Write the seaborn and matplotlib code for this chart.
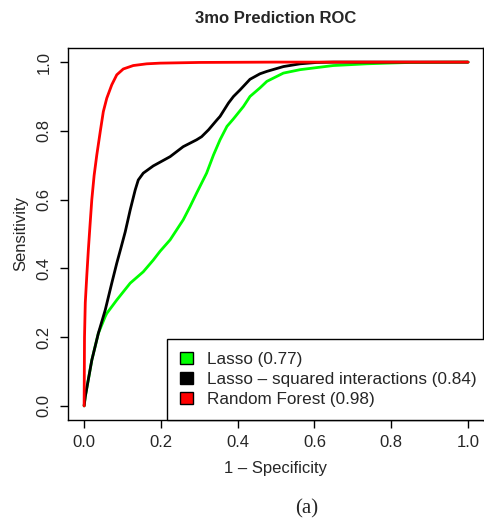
import matplotlib
matplotlib.use("Agg")
import matplotlib.pyplot as plt
from matplotlib.patches import Patch
import pandas as pd
import seaborn as sns

# ROC points
rf_fpr = [0, 0.0005, 0.001, 0.003, 0.007, 0.011, 0.015, 0.02, 0.026, 0.033, 0.042, 0.05,
          0.059, 0.072, 0.085, 0.102, 0.128, 0.163, 0.198, 0.3, 0.5, 1.0]
rf_tpr = [0, 0.1, 0.2, 0.3, 0.38, 0.454, 0.52, 0.6, 0.67, 0.73, 0.798, 0.856,
          0.895, 0.934, 0.963, 0.98, 0.99, 0.995, 0.997, 0.999, 1.0, 1.0]

sq_fpr = [0, 0.003, 0.02, 0.037, 0.055, 0.072, 0.085, 0.096, 0.107, 0.12, 0.133, 0.141,
          0.154, 0.18, 0.224, 0.258, 0.293, 0.306, 0.324, 0.346, 0.354, 0.376, 0.389,
          0.406, 0.432, 0.458, 0.476, 0.519, 0.5625, 0.606, 0.65, 0.75, 1.0]
sq_tpr = [0, 0.027, 0.133, 0.211, 0.279, 0.357, 0.415, 0.46, 0.506, 0.57, 0.628, 0.657,
          0.677, 0.698, 0.725, 0.754, 0.774, 0.783, 0.803, 0.832, 0.842, 0.881, 0.9,
          0.919, 0.95, 0.966, 0.973, 0.987, 0.995, 0.999, 1.0, 1.0, 1.0]

la_fpr = [0, 0.003, 0.02, 0.037, 0.055, 0.059, 0.085, 0.12, 0.154, 0.18, 0.198, 0.224,
          0.258, 0.276, 0.293, 0.319, 0.337, 0.354, 0.372, 0.389, 0.415, 0.432, 0.458,
          0.476, 0.519, 0.5625, 0.649, 0.736, 0.788, 0.85, 1.0]
la_tpr = [0, 0.027, 0.133, 0.211, 0.26, 0.269, 0.308, 0.357, 0.39, 0.424, 0.45, 0.483,
          0.541, 0.58, 0.619, 0.677, 0.73, 0.774, 0.813, 0.835, 0.871, 0.9, 0.925,
          0.944, 0.968, 0.978, 0.99, 0.995, 0.997, 0.999, 1.0]

models = ["Lasso (0.77)", "Lasso \u2013 squared interactions (0.84)", "Random Forest (0.98)"]
colors = ["#00FF00", "#000000", "#FF0000"]

sns.set_style("white")
plt.rcParams['font.family'] = ['Liberation Sans', 'DejaVu Sans']

frames = []
for name, fpr, tpr in zip(models, [la_fpr, sq_fpr, rf_fpr], [la_tpr, sq_tpr, rf_tpr]):
    frames.append(pd.DataFrame({'fpr': fpr, 'tpr': tpr, 'model': name}))
data = pd.concat(frames, ignore_index=True)

fig = plt.figure(figsize=(4.84, 5.19), dpi=100)
ax = fig.add_axes([0.1405, 0.1908, 0.8575, 0.7167])

sns.lineplot(data=data, x='fpr', y='tpr', hue='model', hue_order=models,
             palette=colors, estimator=None, sort=False, linewidth=2.0,
             legend=False, ax=ax)

ax.set_xlim(-0.042, 1.039)
ax.set_ylim(-0.041, 1.041)
ticks = [0, 0.2, 0.4, 0.6, 0.8, 1.0]
ax.set_xticks(ticks)
ax.set_yticks(ticks)
ax.set_xticklabels(["%.1f" % t for t in ticks])
ax.set_yticklabels(["%.1f" % t for t in ticks], rotation=90, va='center')
ax.tick_params(axis='both', direction='out', length=6, width=1, labelsize=12,
               color='black', left=True, bottom=True)
ax.tick_params(axis='x', pad=5)
ax.tick_params(axis='y', pad=6)
for s in ax.spines.values():
    s.set_color('black')
    s.set_linewidth(1)

ax.set_xlabel("1 \u2013 Specificity", fontsize=12, labelpad=8)
ax.set_ylabel("Sensitivity", fontsize=12, labelpad=6)
ax.set_title("3mo Prediction ROC", fontsize=12, fontweight='bold', pad=18)

handles = [Patch(facecolor=c, edgecolor='black', linewidth=1) for c in colors]
leg = ax.legend(handles, models, loc='lower left', bbox_to_anchor=(0.2386, 0.0),
                borderaxespad=0, fontsize=12.3, frameon=True, fancybox=False,
                handlelength=0.75, handleheight=0.75, handletextpad=0.85,
                labelspacing=0.28, borderpad=0.75)
leg.get_frame().set_edgecolor('black')
leg.get_frame().set_linewidth(1)
leg.get_frame().set_alpha(1)

fig.text(0.634, 0.011, "(a)", fontsize=15, family='Liberation Serif', ha='center', va='baseline')

fig.savefig("out.png", dpi=100)
